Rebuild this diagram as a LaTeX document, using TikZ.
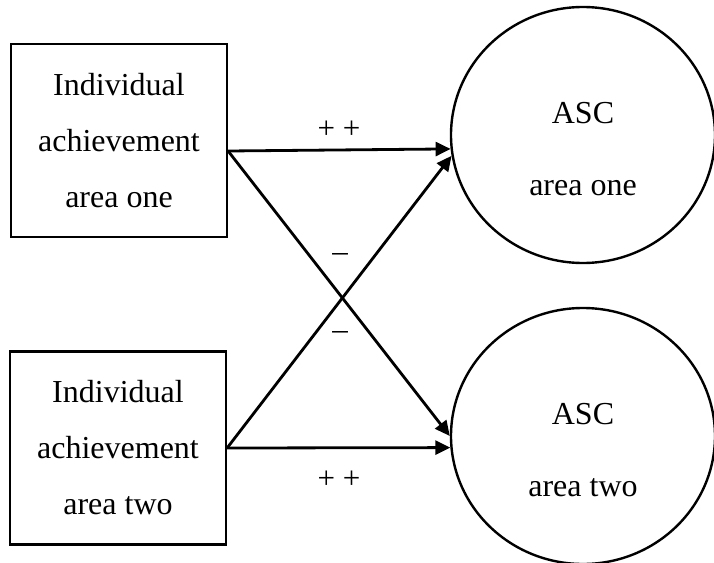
\documentclass[tikz,border=0pt]{standalone}
\usepackage{fontspec}
\setmainfont{Liberation Serif}
\usetikzlibrary{arrows.meta,shapes.geometric}

\tikzset{
  measure/.style={draw, line width=2.2pt, minimum width=216pt, minimum height=193pt,
    inner sep=0pt, align=center, font=\fontsize{32}{56}\selectfont},
  construct/.style={draw, ellipse, line width=2.4pt, minimum width=264pt,
    minimum height=256pt, inner sep=0pt},
  constructtext/.style={align=center, inner sep=0pt, font=\fontsize{32}{72}\selectfont},
  effect/.style={line width=2.8pt, -{Triangle[length=15pt,width=14pt]}},
  sign/.style={inner sep=0pt, font=\fontsize{31}{36}\selectfont}
}

\begin{document}
\begin{tikzpicture}[x=1pt,y=-1pt]
\useasboundingbox (0,0) rectangle (714,562);

% observed achievement measures
\node[measure] (ach1) at (119,140.5) {Individual\\achievement\\area one};
\node[measure] (ach2) at (118,448) {Individual\\achievement\\area two};

% academic self-concept constructs
\node[construct] (asc1) at (583,135) {};
\node[construct] (asc2) at (583,436) {};
\node[constructtext] (asc1txt) at ([yshift=-14pt]asc1.center) {ASC\\area one};
\node[constructtext] (asc2txt) at ([yshift=-14pt]asc2.center) {ASC\\area two};

% arrow origins on the right side of the boxes
\coordinate (o1) at ([yshift=-10.5pt]ach1.east);
\coordinate (o2) at (ach2.east);

% paths
\draw[effect] (o1) -- (asc1.186);
\draw[effect] (o1) -- (asc2.180);
\draw[effect] (o2) -- (asc1.189);
\draw[effect] (o2) -- (asc2.185);

% path signs
\node[sign] (p1) at (339,130) {+ +};
\node[sign] (p2) at (339,480) {+ +};
\node[sign] (m1) at (340,257) {–};
\node[sign] (m2) at (340,335) {–};
\end{tikzpicture}
\end{document}
